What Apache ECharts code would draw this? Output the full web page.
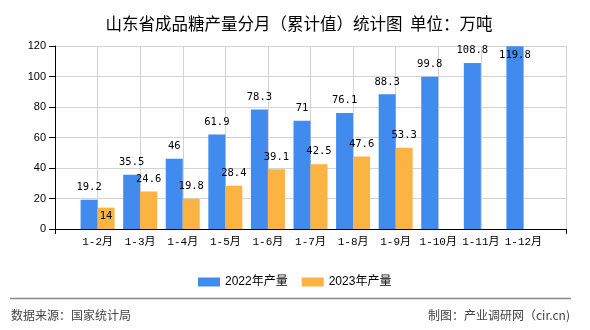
<!DOCTYPE html>
<html>
<head>
<meta charset="utf-8">
<script src="https://cdn.jsdelivr.net/npm/echarts@6/dist/echarts.min.js"></script>
<style>
html,body{margin:0;padding:0;background:#fff;}
#chart{width:590px;height:330px;}
</style>
</head>
<body>
<div id="chart"></div>
<script>
const titleText = '山东省成品糖产量分月（累计值）统计图  单位：万吨';
const categories = ['1-2月','1-3月','1-4月','1-5月','1-6月','1-7月','1-8月','1-9月','1-10月','1-11月','1-12月'];
const values2022 = [19.2, 35.5, 46, 61.9, 78.3, 71, 76.1, 88.3, 99.8, 108.8, 119.8];
const values2023 = [14, 24.6, 19.8, 28.4, 39.1, 42.5, 47.6, 53.3];
const seriesNames = ['2022年产量', '2023年产量'];
const yTicks = [0, 20, 40, 60, 80, 100, 120];
const sourceText = '数据来源：国家统计局';
const creditText = '制图：产业调研网（cir.cn)';

const insideLabel = { position: 'insideTop', distance: 3 };
function pad(arr, n) {
  const out = ['-'];
  for (let i = 0; i < n; i++) out.push(i < arr.length ? arr[i] : '-');
  out.push('-');
  return out;
}
const axisCats = [''].concat(categories, ['']);
const d2022 = pad(values2022, categories.length).map(v =>
  v === 119.8 ? { value: v, label: insideLabel } : v);
const d2023 = pad(values2023, categories.length).map(v =>
  v === 14 ? { value: v, label: insideLabel } : v);

const labelFont = { color: '#000', fontSize: 10.5, fontFamily: 'DejaVu Sans Mono, monospace' };

const chart = echarts.init(document.getElementById('chart'), null, { renderer: 'canvas' });
chart.setOption({
  animation: false,
  backgroundColor: '#fff',
  title: {
    text: titleText,
    left: 294, textAlign: 'center', top: 10,
    textStyle: { fontSize: 16.5, fontWeight: 'normal', color: '#000', fontFamily: 'Noto Sans CJK SC' }
  },
  legend: {
    data: seriesNames,
    left: 193, top: 271,
    itemWidth: 22, itemHeight: 9, itemGap: 14,
    icon: 'rect',
    textStyle: { fontSize: 12, color: '#000', fontFamily: 'Liberation Sans, Noto Sans CJK SC' }
  },
  grid: { left: 55, right: 24, top: 46, bottom: 101, containLabel: false },
  xAxis: {
    type: 'category',
    data: axisCats,
    boundaryGap: false,
    axisLine: { show: true, lineStyle: { color: '#000', width: 1 } },
    axisTick: { show: true, length: 5, interval: (i) => i === 0 || i === axisCats.length - 1, lineStyle: { color: '#000' } },
    axisLabel: { interval: 0, margin: 8, color: '#000', fontSize: 11, fontFamily: 'Liberation Mono, Noto Sans CJK SC' },
    splitLine: { show: true, lineStyle: { color: '#d3d3d3', width: 1 } }
  },
  yAxis: {
    type: 'value',
    min: yTicks[0], max: yTicks[yTicks.length - 1], interval: yTicks[1] - yTicks[0],
    axisLine: { show: true, lineStyle: { color: '#000', width: 1 } },
    axisTick: { show: true, length: 6, lineStyle: { color: '#000' } },
    axisLabel: { margin: 9, color: '#000', fontSize: 11, fontFamily: 'Liberation Sans' },
    splitLine: { show: true, lineStyle: { color: '#d3d3d3', width: 1 } }
  },
  series: [
    {
      name: seriesNames[0], type: 'bar', data: d2022,
      barWidth: 17, barGap: '0%',
      itemStyle: { color: '#418BEF' },
      label: Object.assign({ show: true, position: 'top', distance: 7 }, labelFont)
    },
    {
      name: seriesNames[1], type: 'bar', data: d2023,
      barWidth: 17, barGap: '0%',
      itemStyle: { color: '#FBB342' },
      label: Object.assign({ show: true, position: 'top', distance: 7 }, labelFont)
    }
  ],
  graphic: [
    { type: 'line', shape: { x1: 10, y1: 298.5, x2: 571, y2: 298.5 }, style: { stroke: '#888', lineWidth: 1.5 } },
    { type: 'text', left: 11, top: 309, style: { text: sourceText, fontSize: 12, fill: '#444', fontFamily: 'Noto Sans CJK SC' } },
    { type: 'text', right: 20, top: 309, style: { text: creditText, fontSize: 12, fill: '#444', fontFamily: 'Noto Sans CJK SC' } }
  ]
});
</script>
</body>
</html>
